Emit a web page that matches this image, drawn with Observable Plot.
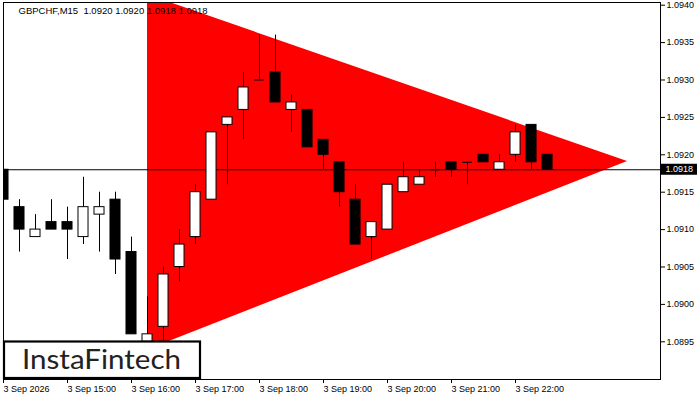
<!DOCTYPE html>
<html>
<head>
<meta charset="utf-8">
<script src="https://cdn.jsdelivr.net/npm/d3@7"></script>
<script src="https://cdn.jsdelivr.net/npm/@observablehq/plot@0.6"></script>
<style>
  html, body { margin: 0; padding: 0; background: #fff; }
  #chart { position: relative; width: 700px; height: 400px; }
  svg { display: block; }
</style>
</head>
<body>
<div id="chart"></div>
<script>
// ---- data ----
const symbol = "GBPCHF,M15";
const day = "2026-09-03";
const times = ["14:00","14:15","14:30","14:45","15:00","15:15","15:30","15:45",
  "16:00","16:15","16:30","16:45","17:00","17:15","17:30","17:45",
  "18:00","18:15","18:30","18:45","19:00","19:15","19:30","19:45",
  "20:00","20:15","20:30","20:45","21:00","21:15","21:30","21:45",
  "22:00","22:15","22:30"];
const open  = [1.0918,1.0913,1.0909,1.0911,1.0911,1.0909,1.0912,1.0914,
  1.0907,1.0895,1.0897,1.0905,1.0909,1.0914,1.0924,1.0926,
  1.0930,1.0931,1.0926,1.0926,1.0922,1.0919,1.0914,1.0909,
  1.0910,1.0915,1.0916,1.0918,1.0919,1.0919,1.0920,1.0918,
  1.0920,1.0924,1.0920];
const high  = [1.0919,1.0914,1.0912,1.0914,1.0913,1.0917,1.0915,1.0915,
  1.0909,1.0901,1.0905,1.0910,1.0916,1.0923,1.0925,1.0931,
  1.0936,1.0936,1.0928,1.0926,1.0922,1.0919,1.0916,1.0911,
  1.0916,1.0919,1.0918,1.0919,1.0919,1.0919,1.0920,1.0920,
  1.0924,1.0924,1.0920];
const low   = [1.0912,1.0907,1.0909,1.0910,1.0906,1.0908,1.0907,1.0904,
  1.0896,1.0894,1.0895,1.0903,1.0908,1.0914,1.0916,1.0922,
  1.0930,1.0927,1.0923,1.0921,1.0918,1.0913,1.0908,1.0906,
  1.0910,1.0915,1.0916,1.0917,1.0917,1.0916,1.0919,1.0918,
  1.0919,1.0918,1.0918];
const close = [1.0914,1.0910,1.0910,1.0910,1.0910,1.0913,1.0913,1.0906,
  1.0896,1.0896,1.0904,1.0908,1.0915,1.0923,1.0925,1.0929,
  1.0930,1.0927,1.0927,1.0921,1.0920,1.0915,1.0908,1.0911,
  1.0916,1.0917,1.0917,1.0918,1.0918,1.0919,1.0919,1.0919,
  1.0923,1.0919,1.0918];
const triTimes = ["16:15","23:45"];
const triUpper = [1.09414, 1.09191];
const triLower = [1.08939, 1.09191];
const yTicks = [1.0895,1.0900,1.0905,1.0910,1.0915,1.0920,1.0925,1.0930,1.0935,1.0940];
const xTickTimes = ["14:00","15:00","16:00","17:00","18:00","19:00","20:00","21:00","22:00"];
const xTickLabels = ["3 Sep 2026","3 Sep 15:00","3 Sep 16:00","3 Sep 17:00","3 Sep 18:00",
  "3 Sep 19:00","3 Sep 20:00","3 Sep 21:00","3 Sep 22:00"];
const logoText = "InstaFintech";

// ---- build ----
const toDate = s => new Date(`${day}T${s}:00Z`);
const MIN = 60000;
const half = 4.7 * MIN;
const candles = times.map((s, i) => ({t: toDate(s), o: open[i], h: high[i], l: low[i], c: close[i]}));
const dojis = candles.filter(d => d.o === d.c);
const tri = triTimes.map((s, i) => ({t: toDate(s), hi: triUpper[i], lo: triLower[i]}));
const xTickDates = xTickTimes.map(toDate);
const last = candles[candles.length - 1];
const title = `${symbol}  ${last.o.toFixed(4)} ${last.h.toFixed(4)} ${last.l.toFixed(4)} ${last.c.toFixed(4)}`;

const x0 = toDate("14:00");
const chart = Plot.plot({
  width: 700, height: 400,
  marginLeft: 3, marginRight: 40, marginTop: 2, marginBottom: 21,
  style: {fontFamily: "'Liberation Sans', Arial, sans-serif", fontSize: "9px", color: "#000", background: "#fff"},
  x: {type: "utc", domain: [x0, new Date(+x0 + 615.9 * MIN)]},
  y: {domain: [1.088996, 1.094036]},
  marks: [
    Plot.areaY(tri, {x: "t", y1: "lo", y2: "hi", fill: "#ff0000", clip: true}),
    Plot.ruleY([last.c], {stroke: "#000", strokeWidth: 1}),
    Plot.ruleX(candles, {x: "t", y1: "l", y2: "h", stroke: "#000", clip: true}),
    Plot.rect(candles, {x1: d => new Date(+d.t - half), x2: d => new Date(+d.t + half),
      y1: "o", y2: "c", fill: d => d.c > d.o ? "#fff" : "#000", stroke: "#000", clip: true}),
    Plot.ruleY(dojis, {y: "o", x1: d => new Date(+d.t - half), x2: d => new Date(+d.t + half), stroke: "#000"}),
    Plot.frame({stroke: "#000"}),
    Plot.axisY(yTicks, {anchor: "right", label: null, tickSize: 4, tickPadding: 2, tickFormat: d => d.toFixed(4)}),
    Plot.axisX(xTickDates, {anchor: "bottom", label: null, tickSize: 4, tickPadding: 2, textAnchor: "start",
      tickFormat: d => xTickLabels[xTickDates.findIndex(t => +t === +d)]}),
    Plot.text([title], {frameAnchor: "top-left", dx: 15, dy: 5, lineAnchor: "top", textAnchor: "start", fontSize: 9.5, fill: "#000"})
  ]
});
document.getElementById("chart").appendChild(chart);

// current price label on the right axis
const svg = d3.select(chart);
const yPos = chart.scale("y").apply(last.c);
svg.append("rect").attr("x", 661).attr("y", yPos - 5.5).attr("width", 36).attr("height", 11).attr("fill", "#000");
svg.append("text").attr("x", 665.5).attr("y", yPos).attr("dy", "0.34em").attr("fill", "#fff")
  .attr("text-anchor", "start").attr("font-size", 9).text(last.c.toFixed(4));

// logo watermark
const g = svg.append("g");
g.append("rect").attr("x", 4).attr("y", 341.5).attr("width", 196).attr("height", 36.5)
  .attr("fill", "#fff").attr("stroke", "#000").attr("stroke-width", 2.2);
g.append("text").attr("x", 22).attr("y", 368.5).attr("text-anchor", "start")
  .attr("font-family", "Lato, 'Open Sans', sans-serif")
  .attr("font-size", 27).attr("fill", "#222").attr("textLength", 159).attr("lengthAdjust", "spacingAndGlyphs")
  .text(logoText);
</script>
</body>
</html>
